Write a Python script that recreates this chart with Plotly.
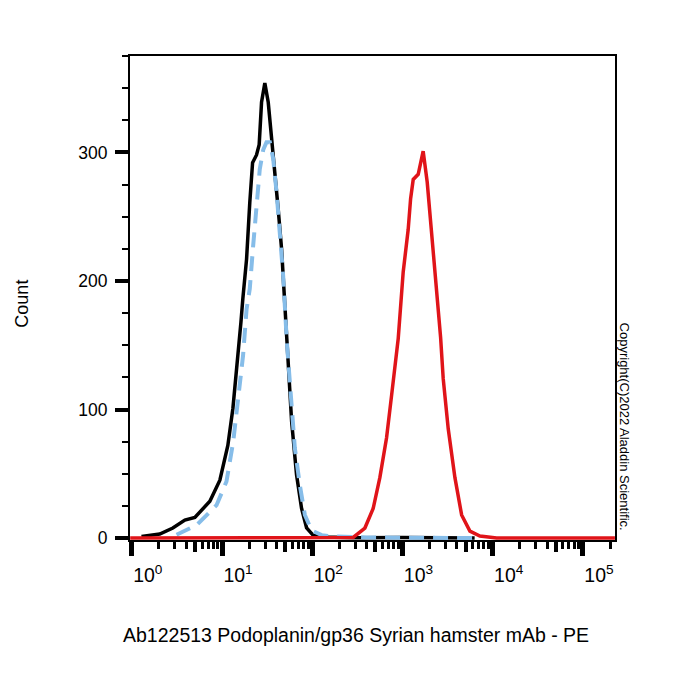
import plotly.graph_objects as go

# ---- data (intensity, count) ----
black_x = [1.28, 2.04, 2.85, 3.87, 5.0, 7.33, 9.46, 11.6, 13.2, 14.6, 16.2, 17.0, 18.7, 20.3,
           21.8, 24.1, 25.8, 27.4, 29.8, 32.5, 35.4, 38.5, 41.9, 45.7, 48.5, 52.3, 59.0, 67.0,
           76.1, 86.5, 102, 131, 316, 1000, 6300]
black_y = [1.3, 3.1, 7.8, 14, 16, 28.7, 45, 72, 101, 132, 168, 186, 217, 261,
           292, 298, 306, 339, 354, 339, 312, 287, 256, 225, 196, 150, 91, 49,
           23, 8, 2.3, 0.8, 0.3, 0.5, 0]

blue_x = [3.13, 5.22, 8.69, 11.2, 13.3, 15.1, 17.1, 18.7, 20.3, 22.1, 24.1, 26.2, 28.6, 31.1,
          33.9, 36.9, 40.2, 43.7, 47.6, 52.3, 59.0, 64.1, 72.9, 82.8, 98.2, 127, 157, 400, 6300]
blue_y = [2.6, 10, 25.6, 44, 75, 106, 142, 178, 194, 227, 261, 287, 302, 308,
          308, 295, 269, 238, 204, 152, 103, 70, 41, 18, 6, 2.3, 1.5, 0.5, 0]

red_x = [0.96, 202, 284, 383, 473, 561, 666, 757, 860, 896, 1018, 1156, 1230, 1315, 1493,
         1694, 1878, 2102, 2389, 2645, 2826, 3212, 3811, 4520, 5585, 7210, 11040, 226000]
red_y = [0, 0, 0.5, 7.8, 23, 47, 78, 111, 147, 155, 207, 240, 264, 279, 283,
         301, 277, 239, 195, 156, 124, 85, 47, 18, 5.4, 1.6, 0, 0]

x_tick_vals = [1, 10, 100, 1000, 10000, 100000]
x_tick_text = ["10<sup>0</sup>", "10<sup>1</sup>", "10<sup>2</sup>",
               "10<sup>3</sup>", "10<sup>4</sup>", "10<sup>5</sup>"]
x_mid_vals = [5, 50, 500, 5000, 50000]
y_tick_vals = [0, 100, 200, 300]

x_title = "Ab122513 Podoplanin/gp36 Syrian hamster mAb - PE"
y_title = "Count"
copyright_text = "Copyright(C)2022 Aladdin Scientific."

FONT = "Liberation Sans, Arial, sans-serif"

fig = go.Figure()
fig.add_trace(go.Scatter(x=black_x, y=black_y, mode="lines",
                         line=dict(color="#000000", width=3.5), showlegend=False))
fig.add_trace(go.Scatter(x=blue_x, y=blue_y, mode="lines",
                         line=dict(color="#86bde9", width=4, dash="15px,9px"), showlegend=False))
fig.add_trace(go.Scatter(x=red_x, y=red_y, mode="lines",
                         line=dict(color="#e01419", width=3.5), showlegend=False))
fig.add_trace(go.Scatter(x=[], y=[], xaxis="x2", showlegend=False))

xr = [-0.02, 5.355]
fig.update_layout(
    width=700, height=700,
    margin=dict(l=130, r=85, t=56, b=160),
    paper_bgcolor="white", plot_bgcolor="white",
    font=dict(family=FONT, color="black"),
    xaxis=dict(type="log", range=xr, tickmode="array", tickvals=x_tick_vals,
               ticktext=x_tick_text, ticks="outside", ticklen=14, tickwidth=5,
               tickcolor="black", showgrid=False, zeroline=False,
               showline=True, linecolor="black", linewidth=2, mirror=True,
               tickfont=dict(size=19.5, family=FONT, color="black"),
               ticklabelshift=16, ticklabelstandoff=3,
               minor=dict(ticks="outside", ticklen=7, tickwidth=2.5, tickcolor="black",
                          dtick="D1", showgrid=False)),
    xaxis2=dict(type="log", range=xr, overlaying="x", anchor="y", side="bottom",
                tickmode="array", tickvals=x_mid_vals, ticks="outside", ticklen=11,
                tickwidth=4, tickcolor="black", showticklabels=False,
                showgrid=False, zeroline=False, showline=False),
    yaxis=dict(range=[-1.5, 375], tickmode="array", tickvals=y_tick_vals,
               ticks="outside", ticklen=13, tickwidth=4, tickcolor="black",
               showgrid=False, zeroline=False, showline=True, linecolor="black",
               linewidth=2, mirror=True,
               tickfont=dict(size=17.5, family=FONT, color="black"),
               ticklabelstandoff=4,
               minor=dict(ticks="outside", ticklen=6, tickwidth=2, tickcolor="black",
                          tick0=0, dtick=25, showgrid=False)),
    annotations=[
        dict(text=x_title, xref="paper", yref="paper", x=0.465, y=-0.197,
             xanchor="center", yanchor="middle", showarrow=False,
             font=dict(size=19.5, family=FONT, color="black")),
        dict(text=y_title, xref="paper", yref="paper", x=-0.223, y=0.488,
             xanchor="center", yanchor="middle", textangle=-90, showarrow=False,
             font=dict(size=18, family=FONT, color="black")),
        dict(text=copyright_text, xref="paper", yref="paper", x=1.02, y=0.235,
             xanchor="center", yanchor="middle", textangle=90, showarrow=False,
             font=dict(size=13, family=FONT, color="black")),
    ],
)

fig.write_html("out.html")
